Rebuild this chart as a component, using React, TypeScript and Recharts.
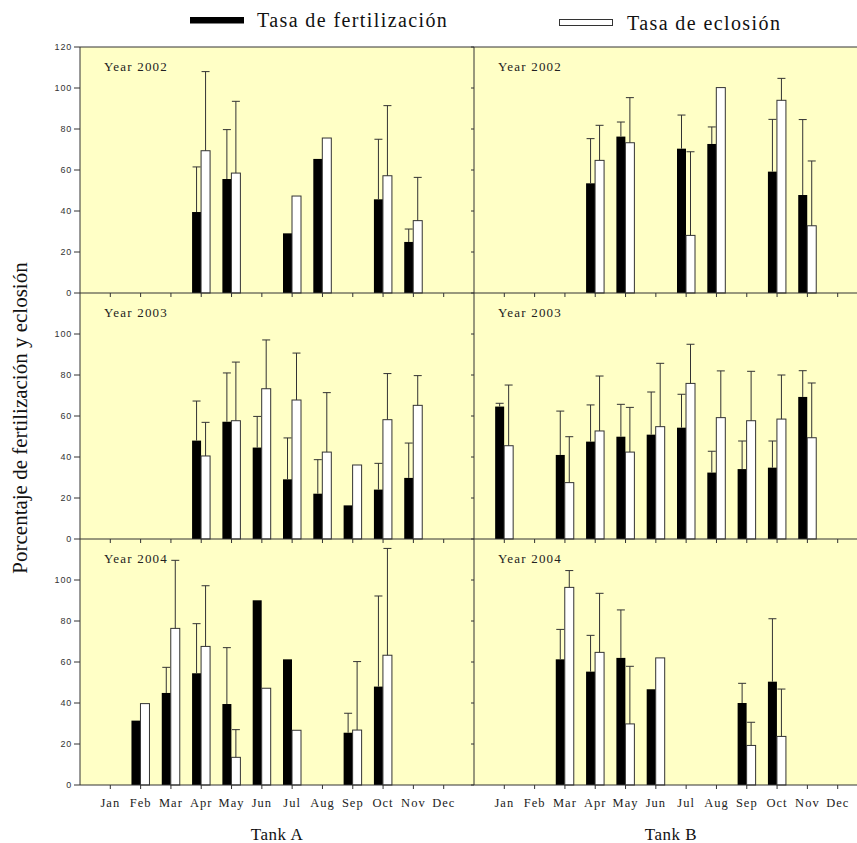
import React from 'react';
import { BarChart, Bar, XAxis, YAxis } from 'recharts';

type Series = (number | null)[];

const months = ['Jan', 'Feb', 'Mar', 'Apr', 'May', 'Jun', 'Jul', 'Aug', 'Sep', 'Oct', 'Nov', 'Dec'];
const monthPos = months.map((_, i) => i + 1);

const years = ['Year 2002', 'Year 2003', 'Year 2004'];
const tanks = ['Tank A', 'Tank B'];

// Tank A
const fertA2002: Series = [null, null, null, 39.5, 55.6, null, 29.1, 65.4, null, 45.7, 24.9, null];
const fertSdA2002: Series = [null, null, null, 22.0, 24.1, null, null, null, null, 29.3, 6.3, null];
const hatchA2002: Series = [null, null, null, 69.4, 58.5, null, 47.3, 75.6, null, 57.2, 35.3, null];
const hatchSdA2002: Series = [null, null, null, 38.6, 35.0, null, null, null, null, 34.2, 21.1, null];

const fertA2003: Series = [null, null, null, 48.0, 57.2, 44.6, 29.1, 22.1, 16.4, 24.1, 29.8, null];
const fertSdA2003: Series = [null, null, null, 19.3, 23.8, 15.2, 20.2, 16.6, null, 12.8, 17.0, null];
const hatchA2003: Series = [null, null, null, 40.5, 57.7, 73.3, 67.8, 42.4, 36.1, 58.2, 65.2, null];
const hatchSdA2003: Series = [null, null, null, 16.4, 28.6, 23.8, 22.9, 29.0, null, 22.5, 14.5, null];

const fertA2004: Series = [null, 31.4, 44.9, 54.5, 39.5, 90.1, 61.3, null, 25.5, 48.0, null, null];
const fertSdA2004: Series = [null, null, 12.5, 24.2, 27.5, null, null, null, 9.5, 44.2, null, null];
const hatchA2004: Series = [null, 39.7, 76.4, 67.6, 13.5, 47.2, 26.7, null, 26.8, 63.3, null, null];
const hatchSdA2004: Series = [null, null, 33.2, 29.6, 13.5, null, null, null, 33.4, 52.1, null, null];

// Tank B
const fertB2002: Series = [null, null, null, 53.5, 76.3, null, 70.4, 72.7, null, 59.2, 47.8, null];
const fertSdB2002: Series = [null, null, null, 21.8, 7.1, null, 16.4, 8.3, null, 25.5, 36.8, null];
const hatchB2002: Series = [null, null, null, 64.7, 73.3, null, 28.1, 100.2, null, 94.0, 32.8, null];
const hatchSdB2002: Series = [null, null, null, 17.1, 22.0, null, 40.8, null, null, 10.7, 31.6, null];

const fertB2003: Series = [64.6, null, 41.0, 47.5, 49.9, 50.9, 54.3, 32.4, 34.1, 34.8, 69.3, null];
const fertSdB2003: Series = [1.6, null, 21.4, 17.9, 15.8, 20.8, 16.3, 10.4, 13.7, 13.0, 12.8, null];
const hatchB2003: Series = [45.5, null, 27.5, 52.7, 42.4, 54.8, 75.9, 59.2, 57.7, 58.5, 49.4, null];
const hatchSdB2003: Series = [29.6, null, 22.4, 26.8, 21.8, 30.9, 19.1, 22.8, 24.1, 21.5, 26.7, null];

const fertB2004: Series = [null, null, 61.3, 55.3, 62.0, 46.7, null, null, 40.0, 50.4, null, null];
const fertSdB2004: Series = [null, null, 14.6, 17.7, 23.4, null, null, null, 9.6, 30.7, null, null];
const hatchB2004: Series = [null, null, 96.4, 64.7, 29.8, 62.0, null, null, 19.3, 23.7, null, null];
const hatchSdB2004: Series = [null, null, 8.2, 28.8, 28.1, null, null, null, 11.3, 23.1, null, null];

const SERIF = '"Liberation Serif", "Times New Roman", serif';
const SANS = '"Liberation Sans", Arial, sans-serif';
const LINE = '#333';
const BG = '#FFFFC6';

const PLOT_W = 394;
const PLOT_H = 246;
const ROW_TOP = [47, 293, 539];
const LEFT_X = 80;
const SPLIT_X = 474;

const MonthTick = ({ x, y, payload }: any) => (
  <text x={x} y={y + 10} textAnchor="middle" fontFamily={SERIF} fontSize={12.5} letterSpacing={1} fill="#222">
    {months[payload.value - 1]}
  </text>
);

const ValueTick = ({ x, y, payload }: any) => (
  <text x={x} y={y + 3.2} textAnchor="end" fontFamily={SANS} fontSize={9} letterSpacing={0.8} fill="#333">
    {payload.value}
  </text>
);

const NoTick = () => <g />;

// bar with an upper-only error whisker, scaled from the bar's own pixel height
const barWithError = (valueKey: string, sdKey: string) => (props: any) => {
  const { x, y, width, height, fill, stroke, payload } = props;
  const v = payload[valueKey];
  if (v == null || !height) return <g />;
  const sd = payload[sdKey];
  const cx = x + width / 2;
  const top = sd == null ? y : y - (sd * height) / v;
  return (
    <g>
      <rect x={x} y={y} width={width} height={height} fill={fill} stroke={stroke || 'none'} strokeWidth={1} />
      {sd != null && (
        <g stroke={LINE} strokeWidth={1}>
          <line x1={cx} y1={y} x2={cx} y2={top} />
          <line x1={cx - 4} y1={top} x2={cx + 4} y2={top} />
        </g>
      )}
    </g>
  );
};

const fertShape = barWithError('fert', 'fertSd');
const hatchShape = barWithError('hatch', 'hatchSd');

interface PanelProps {
  fert: Series
  fertSd: Series
  hatch: Series
  hatchSd: Series
  row: number
  col: number
}

function Panel({ fert, fertSd, hatch, hatchSd, row, col }: PanelProps) {
  const isLeft = col === 0;
  const isBottom = row === 2;
  const yw = isLeft ? LEFT_X : 10;
  const xh = isBottom ? 30 : 6;
  const data = monthPos.map((x, i) => ({
    x,
    fert: fert[i],
    hatch: hatch[i],
    fertSd: fertSd[i],
    hatchSd: hatchSd[i],
  }));
  const yTicks = row === 0 ? [0, 20, 40, 60, 80, 100, 120] : [0, 20, 40, 60, 80, 100];

  return (
    <div style={{ position: 'absolute', left: isLeft ? 0 : SPLIT_X - yw, top: ROW_TOP[row] - 8 }}>
      <BarChart
        width={yw + PLOT_W + 2}
        height={8 + PLOT_H + xh}
        data={data}
        margin={{ top: 8, right: 2, bottom: 0, left: 0 }}
        barGap={0}
      >
        <XAxis
          type="number"
          dataKey="x"
          domain={[0, 13]}
          ticks={monthPos}
          interval={0}
          height={xh}
          tickSize={4}
          tickMargin={8}
          stroke={LINE}
          tick={isBottom ? MonthTick : NoTick}
        />
        <YAxis
          type="number"
          domain={[0, 120]}
          ticks={yTicks}
          interval={0}
          width={yw}
          tickSize={isLeft ? 6 : 3}
          tickMargin={2}
          stroke={LINE}
          tick={isLeft ? ValueTick : NoTick}
        />
        <Bar dataKey="fert" fill="#000" barSize={9} shape={fertShape} isAnimationActive={false} />
        <Bar dataKey="hatch" fill="#fff" stroke={LINE} barSize={9} shape={hatchShape} isAnimationActive={false} />
      </BarChart>
    </div>
  );
}

export default function App() {
  const panels = [
    { fert: fertA2002, fertSd: fertSdA2002, hatch: hatchA2002, hatchSd: hatchSdA2002, row: 0, col: 0 },
    { fert: fertB2002, fertSd: fertSdB2002, hatch: hatchB2002, hatchSd: hatchSdB2002, row: 0, col: 1 },
    { fert: fertA2003, fertSd: fertSdA2003, hatch: hatchA2003, hatchSd: hatchSdA2003, row: 1, col: 0 },
    { fert: fertB2003, fertSd: fertSdB2003, hatch: hatchB2003, hatchSd: hatchSdB2003, row: 1, col: 1 },
    { fert: fertA2004, fertSd: fertSdA2004, hatch: hatchA2004, hatchSd: hatchSdA2004, row: 2, col: 0 },
    { fert: fertB2004, fertSd: fertSdB2004, hatch: hatchB2004, hatchSd: hatchSdB2004, row: 2, col: 1 },
  ];

  return (
    <div style={{ position: 'absolute', left: 0, top: 0, width: 857, height: 843, overflow: 'hidden', background: '#fff' }}>
      {/* panel background, legend and titles */}
      <svg width={857} height={843} style={{ position: 'absolute', left: 0, top: 0 }}>
        <rect x={LEFT_X} y={ROW_TOP[0]} width={857 - LEFT_X} height={PLOT_H * 3} fill={BG} />
        <line x1={LEFT_X} y1={ROW_TOP[0]} x2={857} y2={ROW_TOP[0]} stroke={LINE} />

        <rect x={190} y={17} width={54} height={6.5} fill="#000" />
        <text x={257} y={27} fontFamily={SERIF} fontSize={20} letterSpacing={1.4} fill="#111">
          Tasa de fertilización
        </text>
        <rect x={559.5} y={19.5} width={53} height={6} fill="#fff" stroke={LINE} />
        <text x={627} y={30} fontFamily={SERIF} fontSize={20} letterSpacing={1.4} fill="#111">
          Tasa de eclosión
        </text>

        <text
          x={26.5}
          y={418}
          transform="rotate(-90 26.5 418)"
          textAnchor="middle"
          fontFamily={SERIF}
          fontSize={21}
          fill="#111"
        >
          Porcentaje de fertilización y eclosión
        </text>

        {years.map((yr, r) => [0, 1].map((c) => (
          <text
            key={`${yr}-${c}`}
            x={c === 0 ? 104 : 498}
            y={ROW_TOP[r] + 24}
            fontFamily={SERIF}
            fontSize={13}
            letterSpacing={1.2}
            fill="#222"
          >
            {yr}
          </text>
        )))}

        {tanks.map((t, c) => (
          <text
            key={t}
            x={(c === 0 ? LEFT_X : SPLIT_X) + PLOT_W / 2}
            y={840}
            textAnchor="middle"
            fontFamily={SERIF}
            fontSize={17}
            letterSpacing={0.5}
            fill="#111"
          >
            {t}
          </text>
        ))}
      </svg>

      {panels.map((p) => (
        <Panel key={`${p.row}-${p.col}`} {...p} />
      ))}
    </div>
  );
}
